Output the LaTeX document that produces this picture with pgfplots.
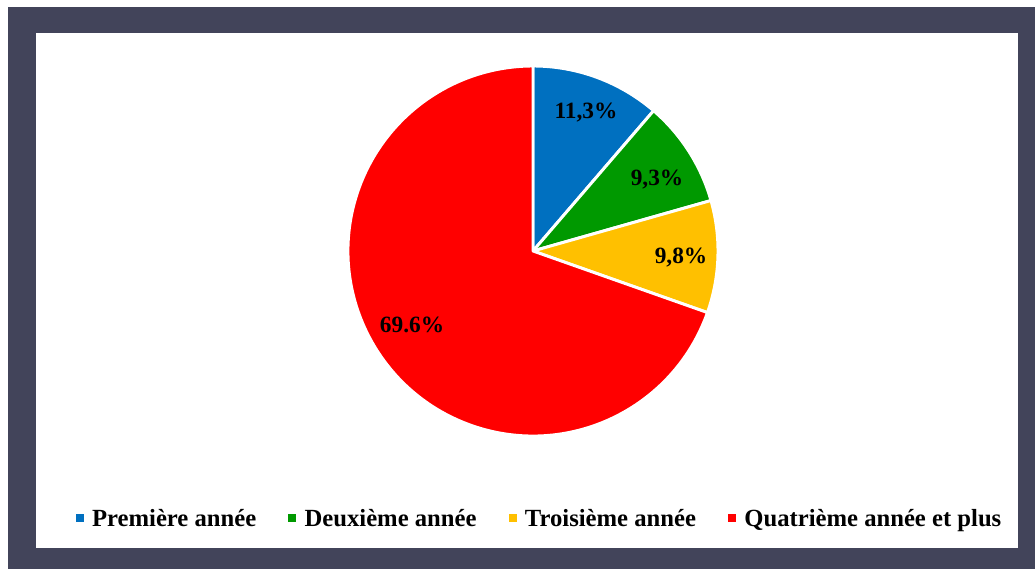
\documentclass[border=0pt]{standalone}
\usepackage{pgfplots}
\usepackage{pgfplotstable}
\pgfplotsset{compat=1.18}
\usepackage{fontspec}
\setmainfont{Liberation Serif}
\definecolor{frame}{RGB}{66,68,90}
\definecolor{cblue}{RGB}{0,112,192}
\definecolor{cgreen}{RGB}{0,153,0}
\definecolor{cyellow}{RGB}{255,192,0}
\definecolor{cred}{RGB}{255,0,0}

% share of students by year (percent), clockwise from the top
\pgfplotstableread{
value color
11.3 cblue
9.3 cgreen
9.8 cyellow
69.6 cred
}\piedata

\begin{document}
\begin{tikzpicture}
\begin{axis}[
    scale only axis, width=776.25pt, height=426.75pt,
    xmin=0, xmax=1035, ymin=0, ymax=569,
    hide axis, clip=false,
    legend columns=4,
    legend style={at={(axis cs:538.5,50)}, anchor=center, draw=none, fill=none,
        font=\bfseries\fontsize{18.5}{20}\selectfont,
        nodes={inner sep=0pt},
        /tikz/every odd column/.append style={column sep=6.5pt},
        /tikz/every even column/.append style={column sep=24pt}},
    legend image code/.code={\fill[#1] (0,-1.6pt) rectangle (5.4pt,3.8pt);},
]
% background frame
\fill[white] (axis cs:0,0) rectangle (axis cs:1035,569);
\fill[frame] (axis cs:8,0) rectangle (axis cs:1035,562);
\fill[white] (axis cs:36,21) rectangle (axis cs:1018,536);

\pgfmathsetmacro\cum{0}
\pgfplotsforeachungrouped \i in {0,...,3}{
  \pgfplotstablegetelem{\i}{value}\of\piedata \let\v\pgfplotsretval
  \pgfplotstablegetelem{\i}{color}\of\piedata \let\c\pgfplotsretval
  \pgfmathsetmacro\a{90-3.6*\cum}
  \pgfmathsetmacro\b{90-3.6*(\cum+\v)}
  \edef\temp{\noexpand\fill[\c, draw=white, line width=2.2pt, line join=round]
    (axis cs:533,318) -- ++(\a:138.75pt)
    arc[start angle=\a, end angle=\b, radius=138.75pt] -- cycle;}
  \temp
  \pgfmathsetmacro\cum{\cum+\v}
}

\begin{scope}[font=\bfseries\fontsize{17.5}{20}\selectfont]
\node at (axis cs:586,456) {11,3\%};
\node at (axis cs:657,389) {9,3\%};
\node at (axis cs:681,311) {9,8\%};
\node at (axis cs:412,244) {69.6\%};
\end{scope}

\addlegendimage{cblue}\addlegendentry{Première année}
\addlegendimage{cgreen}\addlegendentry{Deuxième année}
\addlegendimage{cyellow}\addlegendentry{Troisième année}
\addlegendimage{cred}\addlegendentry{Quatrième année et plus}
\end{axis}
\end{tikzpicture}
\end{document}
